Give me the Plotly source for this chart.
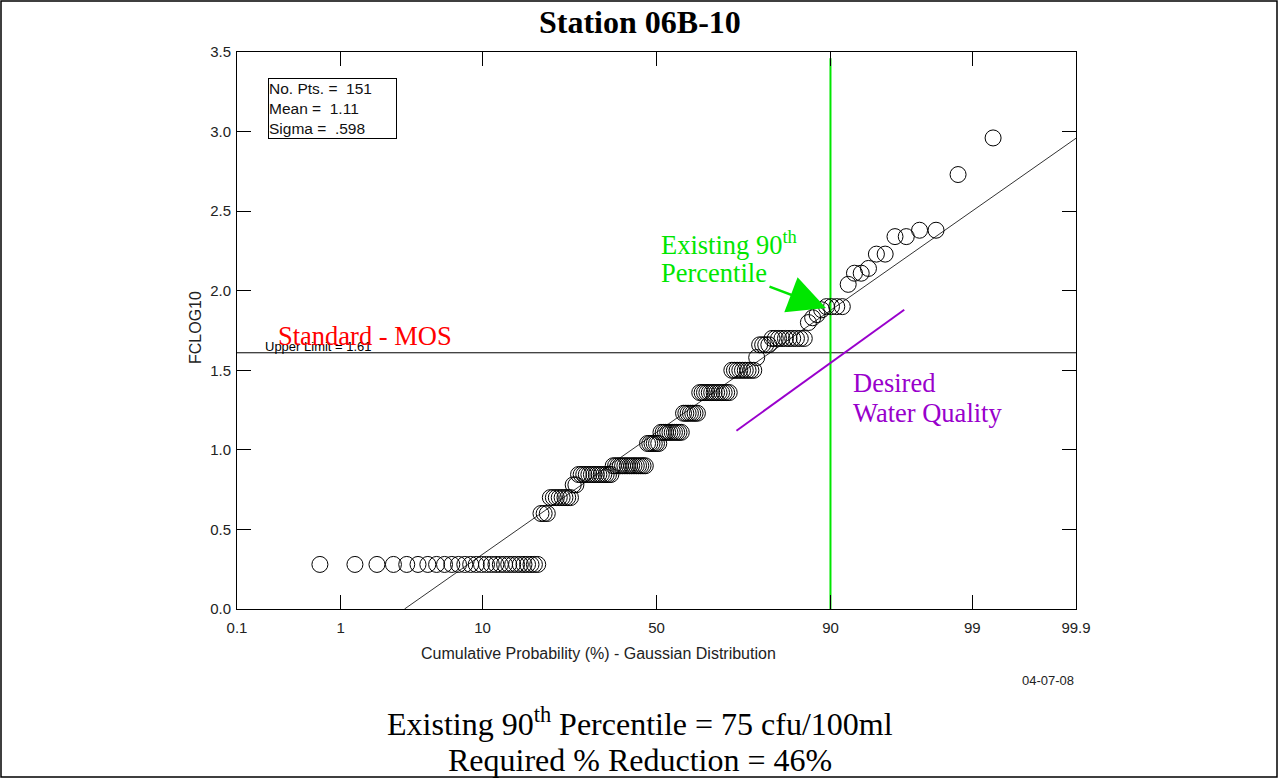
import plotly.graph_objects as go
from statistics import NormalDist

# ---------------- data ----------------
# FCLOG10 values (sorted distinct levels) and how many samples sit at each level
levels = [0.28, 0.60, 0.70, 0.78, 0.845, 0.90, 1.04, 1.11, 1.23, 1.36, 1.50, 1.58,
          1.66, 1.70, 1.80, 1.83, 1.85, 1.88, 1.90, 2.04, 2.11, 2.14, 2.23, 2.34,
          2.38, 2.73, 2.96]
counts = [29, 3, 8, 2, 14, 15, 6, 10, 7, 13, 9, 1,
          4, 10, 1, 1, 1, 1, 4, 1, 2, 1, 2, 2,
          2, 1, 1]
n_pts = 151
mean_val = 1.11
sigma_val = 0.598
upper_limit = 1.61
target_pct = 90
tick_pcts = [0.1, 1, 10, 50, 90, 99, 99.9]
tick_labels = ["0.1", "1", "10", "50", "90", "99", "99.9"]
# desired water quality line endpoints (probability %, FCLOG10)
desired_pct = [72.2, 96.6]
desired_val = [1.12, 1.88]

nd = NormalDist()
z = nd.inv_cdf

values = []
for lv, c in zip(levels, counts):
    values += [lv] * c
N = len(values)
# Weibull plotting positions i/(N+1) on a Gaussian probability scale
xs = [z((i + 1) / (N + 1)) for i in range(N)]

zmin, zmax = z(tick_pcts[0] / 100), z(tick_pcts[-1] / 100)

# ---------------- layout geometry (pixels) ----------------
W, H = 1279, 784
L, R, T, B = 237, 1076, 52, 609

def fx(px):
    return (px - L) / (R - L)

def fy(py):
    return (B - py) / (B - T)

SERIF = "Liberation Serif, Times New Roman, serif"
SANS = "Liberation Sans, Arial, sans-serif"
GREEN = "#00e600"
PURPLE = "#9900cc"

fig = go.Figure()

# fitted normal line (clipped at 0)
z0 = -mean_val / sigma_val
fig.add_trace(go.Scatter(x=[z0, zmax], y=[mean_val + sigma_val * z0, mean_val + sigma_val * zmax],
                         mode="lines", line=dict(color="#333333", width=1),
                         hoverinfo="skip", showlegend=False))
# upper limit
fig.add_trace(go.Scatter(x=[zmin, zmax], y=[upper_limit, upper_limit], mode="lines",
                         line=dict(color="black", width=1), hoverinfo="skip", showlegend=False))
# existing 90th percentile vertical
zt = z(target_pct / 100)
fig.add_trace(go.Scatter(x=[zt, zt], y=[0, 3.46], mode="lines",
                         line=dict(color=GREEN, width=2), hoverinfo="skip", showlegend=False))
# desired water quality
fig.add_trace(go.Scatter(x=[z(p / 100) for p in desired_pct], y=desired_val, mode="lines",
                         line=dict(color=PURPLE, width=2), hoverinfo="skip", showlegend=False))
# data points
fig.add_trace(go.Scatter(x=xs, y=values, mode="markers",
                         marker=dict(symbol="circle-open", size=16, color="black",
                                     line=dict(width=1, color="black")),
                         showlegend=False))

axis_common = dict(showline=True, linecolor="black", linewidth=1, mirror="ticks",
                   ticks="inside", ticklen=14, tickcolor="black", tickwidth=1,
                   showgrid=False, zeroline=False,
                   tickfont=dict(family=SANS, size=15, color="#222222"))

fig.update_xaxes(range=[zmin, zmax], tickvals=[z(p / 100) for p in tick_pcts],
                 ticktext=tick_labels, ticklabelstandoff=5, **axis_common)
fig.update_yaxes(range=[0, 3.5], tickvals=[0, 0.5, 1, 1.5, 2, 2.5, 3, 3.5],
                 tickformat=".1f", ticklabelstandoff=2, **axis_common)

ann = []
ann.append(dict(x=fx(640), y=fy(22), text="<b>Station 06B-10</b>",
                font=dict(family=SERIF, size=32, color="black"),
                xanchor="center", yanchor="middle"))
ann.append(dict(x=fx(268), y=fy(78),
                text="No. Pts. =\u00a0\u00a0" + str(n_pts) + "<br>Mean =\u00a0\u00a0" + f"{mean_val:.2f}"
                     + "<br>Sigma =\u00a0\u00a0" + f"{sigma_val:.3f}".lstrip("0"),
                font=dict(family=SANS, size=15.5, color="#111111"), align="left",
                xanchor="left", yanchor="top", bordercolor="black", borderwidth=1,
                borderpad=0, width=127, height=59, bgcolor="white"))
ann.append(dict(x=fx(263), y=fy(346), text=f"Upper Limit = {upper_limit:.2f}",
                font=dict(family=SANS, size=13, color="black"), xanchor="left", yanchor="middle"))
ann.append(dict(x=fx(276), y=fy(336), text="Standard - MOS",
                font=dict(family=SERIF, size=26.5, color="red"), xanchor="left", yanchor="middle"))
ann.append(dict(x=fx(659), y=fy(243), text="Existing 90<sup>th</sup>",
                font=dict(family=SERIF, size=26.5, color=GREEN), xanchor="left", yanchor="middle"))
ann.append(dict(x=fx(659), y=fy(273), text="Percentile",
                font=dict(family=SERIF, size=26.5, color=GREEN), xanchor="left", yanchor="middle"))
ann.append(dict(x=fx(851), y=fy(383), text="Desired",
                font=dict(family=SERIF, size=26.5, color=PURPLE), xanchor="left", yanchor="middle"))
ann.append(dict(x=fx(851), y=fy(413), text="Water Quality",
                font=dict(family=SERIF, size=26.5, color=PURPLE), xanchor="left", yanchor="middle"))
# green arrow
ann.append(dict(x=fx(826), y=fy(308), ax=-58, ay=-22, text="", showarrow=True,
                arrowcolor=GREEN, arrowwidth=2.5, arrowhead=2, arrowsize=3))
ann.append(dict(x=fx(195), y=fy(328), text="FCLOG10", textangle=-90,
                font=dict(family=SANS, size=16, color="#222222"), xanchor="center", yanchor="middle"))
ann.append(dict(x=fx(419), y=fy(653), text="Cumulative Probability (%) - Gaussian Distribution",
                font=dict(family=SANS, size=16, color="#222222"), xanchor="left", yanchor="middle"))
ann.append(dict(x=fx(1076), y=fy(680), text="04-07-08",
                font=dict(family=SANS, size=13, color="#222222"), xanchor="right", yanchor="middle"))
ann.append(dict(x=fx(640), y=fy(722), text="Existing 90<sup>th</sup> Percentile = 75 cfu/100ml",
                font=dict(family=SERIF, size=32, color="black"), xanchor="center", yanchor="middle"))
ann.append(dict(x=fx(640), y=fy(760), text="Required % Reduction = 46%",
                font=dict(family=SERIF, size=32, color="black"), xanchor="center", yanchor="middle"))
for a in ann:
    a.setdefault("xref", "paper")
    a.setdefault("yref", "paper")
    a.setdefault("showarrow", False)

shapes = [dict(type="rect", xref="paper", yref="paper", x0=fx(1), x1=fx(1277), y0=fy(1), y1=fy(777),
               line=dict(color="black", width=1.5), fillcolor="rgba(0,0,0,0)")]

fig.update_layout(width=W, height=H, autosize=False,
                  margin=dict(l=L, r=W - R, t=T, b=H - B, pad=0),
                  paper_bgcolor="white", plot_bgcolor="white",
                  annotations=ann, shapes=shapes, showlegend=False)

fig.write_html("out.html", include_plotlyjs=True, full_html=True,
               config={"displayModeBar": False})
